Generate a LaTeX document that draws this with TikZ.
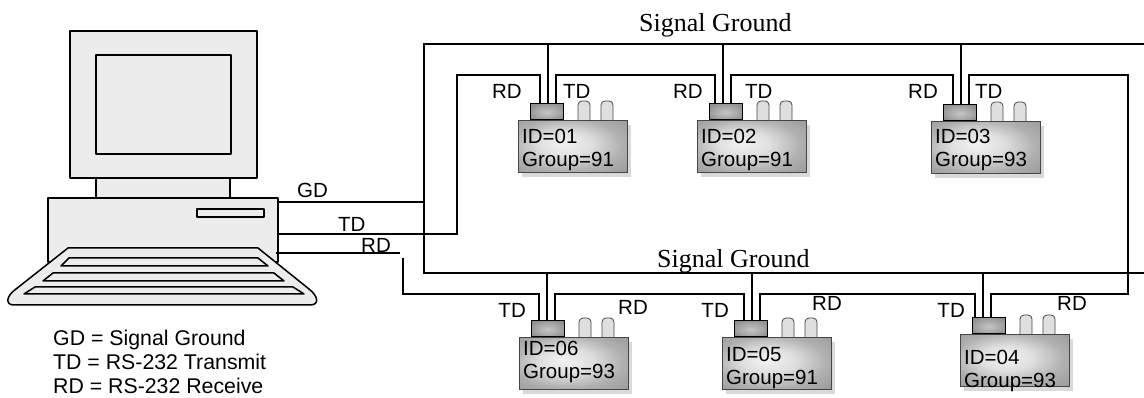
\documentclass[tikz,border=0pt]{standalone}
\usepackage{fontspec}
\setmainfont{Liberation Serif}
\setsansfont{Liberation Sans}
\usetikzlibrary{calc,shadows}

\pgfdeclareradialshading{unitshade}{\pgfpoint{-5bp}{3bp}}{color(0bp)=(gray!10);
  color(12bp)=(gray!25); color(25bp)=(gray!62); color(36bp)=(gray!78); color(50bp)=(gray!78)}
\pgfdeclareradialshading{plugshade}{\pgfpoint{0bp}{-3bp}}{color(0bp)=(gray!45);
  color(20bp)=(gray!72); color(30bp)=(gray!88); color(50bp)=(gray!88)}

\tikzset{
  wire/.style={line width=1.5pt},
  pcpart/.style={draw,fill=gray!15,line width=1.5pt,line join=round},
  unit/.style={draw=gray!55!black,line width=0.8pt,shading=unitshade,
    minimum width=109pt,minimum height=52pt,inner sep=0pt,
    drop shadow={shadow xshift=4pt,shadow yshift=-5pt,fill=gray!30,opacity=1}},
  plug/.style={draw=black,line width=0.8pt,shading=plugshade,
    minimum width=33pt,minimum height=16pt,inner sep=0pt},
  knob/.style={draw=gray!55!black,fill=gray!25,line width=0.8pt,rounded corners=4pt},
  lbl/.style={font=\sffamily\fontsize{20.5}{23}\selectfont,inner sep=0pt},
  title/.style={font=\rmfamily\fontsize{26}{30}\selectfont,inner sep=0pt,anchor=base west}
}

\begin{document}
\begin{tikzpicture}[x=1pt,y=-1pt]
\useasboundingbox (0,0) rectangle (1144,398);

\draw[pcpart] (96,176) rectangle (230,198);
\draw[pcpart] (48,198) rectangle (278,262);
\draw[pcpart] (197,209) rectangle (264,217);
\draw[pcpart] (70,31) rectangle (257,178);
\draw[pcpart] (96,55) rectangle (231,154);
\draw[pcpart] (68,248) -- (258,248) -- (309,289) .. controls (318,296) and (320,305) .. (310,305)
  -- (14,305) .. controls (5,305) and (6,296) .. (16,289) -- cycle;
\draw[pcpart] (69,258) -- (258,258) -- (268,266) -- (61,266) -- cycle;
\draw[pcpart] (53,273) -- (274,273) -- (284,281) -- (43,281) -- cycle;
\draw[pcpart] (35,287) -- (293,287) -- (304,294) -- (24,294) -- cycle;

\coordinate (pc-gd) at (278,202);
\coordinate (pc-td) at (278,234);
\coordinate (pc-rd) at (276,253);
\coordinate (rd-cut) at (400,253);
\coordinate (rd-go) at (403,258);
\coordinate (gt) at (424,44);
\coordinate (gb) at (424,273);
\coordinate (edge) at (1144,0);
\coordinate (bt) at (457,75);
\coordinate (bb) at (403,294);
\coordinate (rt) at (1128,75);

\foreach \n/\x/\y/\id/\grp/\dy/\wx in {d1/518/120/01/91/0/30,d2/697/120/02/91/0/26,
  d3/931/121/03/93/-1/30,d4/960/334/04/93/6/23,d5/722/337/05/91/0/30,d6/519/337/06/93/-6/28}{
  \node[plug,anchor=south west] (\n-p) at (\x+12,\y) {};
  \draw[knob] (\x+60,\y+1) -- (\x+60,\y-19) -- (\x+72,\y-19) -- (\x+72,\y+1);
  \draw[knob] (\x+83,\y+1) -- (\x+83,\y-19) -- (\x+95,\y-19) -- (\x+95,\y+1);
  \node[unit,anchor=north west] (\n) at (\x,\y) {};
  \node[lbl,anchor=base west] (\n-id) at (\x+4,\y+24+\dy) {ID=\id};
  \node[lbl,anchor=base west] (\n-grp) at (\x+4,\y+47+\dy) {Group=\grp};
  \coordinate (\n-g) at (\x+\wx,\y-16);
  \coordinate (\n-l) at (\x+\wx-8,\y-16);
  \coordinate (\n-r) at (\x+\wx+8,\y-16);
}

\draw[wire] (pc-gd) -- (gt |- pc-gd);
\draw[wire] (edge |- gt) -- (gt) -- (gb) -- (edge |- gb);
\foreach \n in {d1,d2,d3} \draw[wire] (\n-g |- gt) -- (\n-g);
\foreach \n in {d4,d5,d6} \draw[wire] (\n-g |- gb) -- (\n-g);
\draw[wire] (pc-td) -| (bt) -| (d1-l);
\draw[wire] (d1-r) |- (d2-l |- bt) -- (d2-l);
\draw[wire] (d2-r) |- (d3-l |- bt) -- (d3-l);
\draw[wire] (d3-r) |- (rt) |- (d4-r |- bb) -- (d4-r);
\draw[wire] (d4-l) |- (d5-r |- bb) -- (d5-r);
\draw[wire] (d5-l) |- (d6-r |- bb) -- (d6-r);
\draw[wire] (pc-rd) -- (rd-cut);
\draw[wire] (rd-go) -- (bb) -| (d6-l);

\node[title] (sg-top) at (639,32) {Signal Ground};
\node[title] (sg-bot) at (657,268) {Signal Ground};

\node[lbl,anchor=base west] (pc-gdl) at (297,198) {GD};
\node[lbl,anchor=base west] (pc-tdl) at (338,232) {TD};
\node[lbl,anchor=base west] (pc-rdl) at (361,253) {RD};

\node[lbl,anchor=base east] (d1-rdl) at (522,99) {RD};
\node[lbl,anchor=base west] (d1-tdl) at (563,99) {TD};
\node[lbl,anchor=base east] (d2-rdl) at (703,99) {RD};
\node[lbl,anchor=base west] (d2-tdl) at (745,99) {TD};
\node[lbl,anchor=base east] (d3-rdl) at (938,99) {RD};
\node[lbl,anchor=base west] (d3-tdl) at (975,99) {TD};
\node[lbl,anchor=base east] (d6-tdl) at (526,318) {TD};
\node[lbl,anchor=base west] (d6-rdl) at (618,314) {RD};
\node[lbl,anchor=base east] (d5-tdl) at (729,318) {TD};
\node[lbl,anchor=base west] (d5-rdl) at (812,310) {RD};
\node[lbl,anchor=base east] (d4-tdl) at (965,318) {TD};
\node[lbl,anchor=base west] (d4-rdl) at (1057,310) {RD};

\node[lbl,anchor=base west,font=\sffamily\fontsize{21.3}{24}\selectfont] (leg1) at (53,345) {GD = Signal Ground};
\node[lbl,anchor=base west,font=\sffamily\fontsize{21.3}{24}\selectfont] (leg2) at (53,369) {TD = RS-232 Transmit};
\node[lbl,anchor=base west,font=\sffamily\fontsize{21.3}{24}\selectfont] (leg3) at (53,393) {RD = RS-232 Receive};
\end{tikzpicture}
\end{document}
